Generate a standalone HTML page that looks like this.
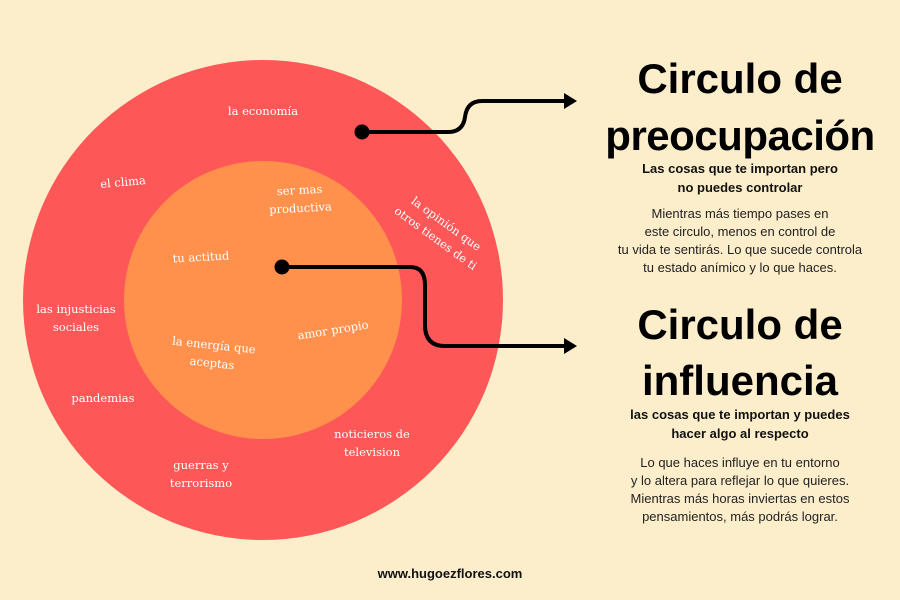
<!DOCTYPE html>
<html><head><meta charset="utf-8"><style>
body{margin:0;width:900px;height:600px;background:#fdeecb;position:relative;overflow:hidden;font-family:"Liberation Sans",sans-serif}
.t{position:absolute;color:#fff;text-align:center;transform:translate(-50%,-50%);white-space:nowrap;line-height:18px;font-family:"DejaVu Serif","Liberation Serif",serif;font-size:11.5px}
.r{position:absolute;left:590px;width:300px;text-align:center;color:#111;white-space:nowrap}
.h{font-weight:bold;font-size:42px;line-height:55px;color:#000}
.s{font-weight:bold;font-size:13px;line-height:19px}
.b{font-size:13px;line-height:18px;color:#222}
</style></head><body>
<svg width="900" height="600" style="position:absolute;left:0;top:0">
<circle cx="263" cy="300" r="240" fill="#fe5757"/>
<circle cx="263" cy="300" r="139" fill="#ff914d"/>
<path d="M362 132 H448 Q463 132 465 117 Q467 101 482 101 H566" fill="none" stroke="#000" stroke-width="4"/>
<circle cx="362" cy="132" r="7.5" fill="#000"/>
<polygon points="564,93 577,101 564,109" fill="#000"/>
<path d="M282 267 H410 Q425 267 425 285 V325 Q425 346 445 346 H566" fill="none" stroke="#000" stroke-width="4"/>
<circle cx="282" cy="267" r="7.5" fill="#000"/>
<polygon points="564,338 577,346 564,354" fill="#000"/>
</svg>
<div class="t" style="left:263px;top:111px">la economía</div>
<div class="t" style="left:123px;top:182px;transform:translate(-50%,-50%) rotate(-5deg)">el clima</div>
<div class="t" style="left:300px;top:199px;transform:translate(-50%,-50%) rotate(-3deg)">ser mas<br>productiva</div>
<div class="t" style="left:441px;top:231px;transform:translate(-50%,-50%) rotate(36deg)">la opinión que<br>otros tienes de ti</div>
<div class="t" style="left:201px;top:257px;transform:translate(-50%,-50%) rotate(-3deg)">tu actitud</div>
<div class="t" style="left:76px;top:318px">las injusticias<br>sociales</div>
<div class="t" style="left:333px;top:330px;transform:translate(-50%,-50%) rotate(-9deg)">amor propio</div>
<div class="t" style="left:213px;top:354px;transform:translate(-50%,-50%) rotate(6deg)">la energía que<br>aceptas</div>
<div class="t" style="left:103px;top:398px">pandemias</div>
<div class="t" style="left:372px;top:443px">noticieros de<br>television</div>
<div class="t" style="left:201px;top:474px">guerras y<br>terrorismo</div>
<div class="r h" style="top:51px">Circulo de</div>
<div class="r h" style="top:108px;letter-spacing:-0.5px">preocupación</div>
<div class="r s" style="top:159px">Las cosas que te importan pero<br>no puedes controlar</div>
<div class="r b" style="top:205px">Mientras más tiempo pases en<br>este circulo, menos en control de<br>tu vida te sentirás. Lo que sucede controla<br>tu estado anímico y lo que haces.</div>
<div class="r h" style="top:297px">Circulo de</div>
<div class="r h" style="top:353px">influencia</div>
<div class="r s" style="top:405px">las cosas que te importan y puedes<br>hacer algo al respecto</div>
<div class="r b" style="top:454px">Lo que haces influye en tu entorno<br>y lo altera para reflejar lo que quieres.<br>Mientras más horas inviertas en estos<br>pensamientos, más podrás lograr.</div>
<div style="position:absolute;left:300px;width:300px;top:566px;text-align:center;font-weight:bold;font-size:13px;color:#111">www.hugoezflores.com</div>
</body></html>
